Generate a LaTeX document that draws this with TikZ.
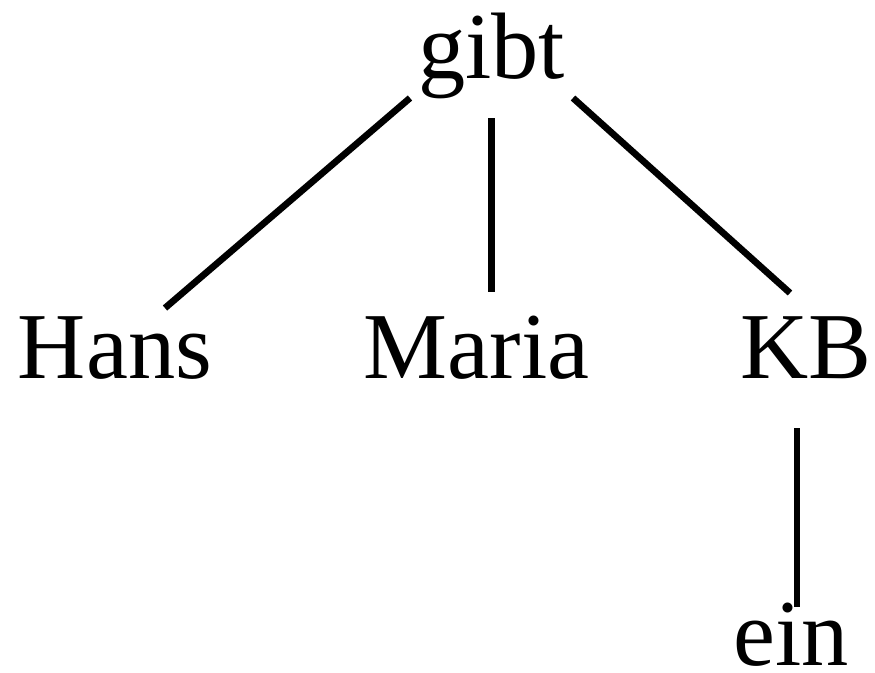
\documentclass[tikz,border=0pt]{standalone}
\usepackage{fontspec}
\setmainfont{Liberation Serif}
\begin{document}
\begin{tikzpicture}[x=0.75pt,y=-0.75pt,
  word/.style={inner sep=0pt,anchor=base,font=\fontsize{70.8}{80}\selectfont},
  edge/.style={line width=5pt}]
\useasboundingbox (0,0) rectangle (875,672);
\node[word] (gibt) at (491.5,78) {gibt};
\node[word] (hans) at (115,378) {Hans};
\node[word] (maria) at (476.5,378) {Maria};
\node[word] (kb) at (806,378) {KB};
\node[word] (ein) at (791,665) {ein};
\draw[edge] ([shift={(-81.5,20)}]gibt.base) -- ([shift={(50,-70)}]hans.base);
\draw[edge] ([shift={(0,40)}]gibt.base) -- ([shift={(15,-86)}]maria.base);
\draw[edge] ([shift={(81.5,20)}]gibt.base) -- ([shift={(-16,-85)}]kb.base);
\draw[edge] ([shift={(-9,50)}]kb.base) -- ([shift={(6,-58)}]ein.base);
\end{tikzpicture}
\end{document}
